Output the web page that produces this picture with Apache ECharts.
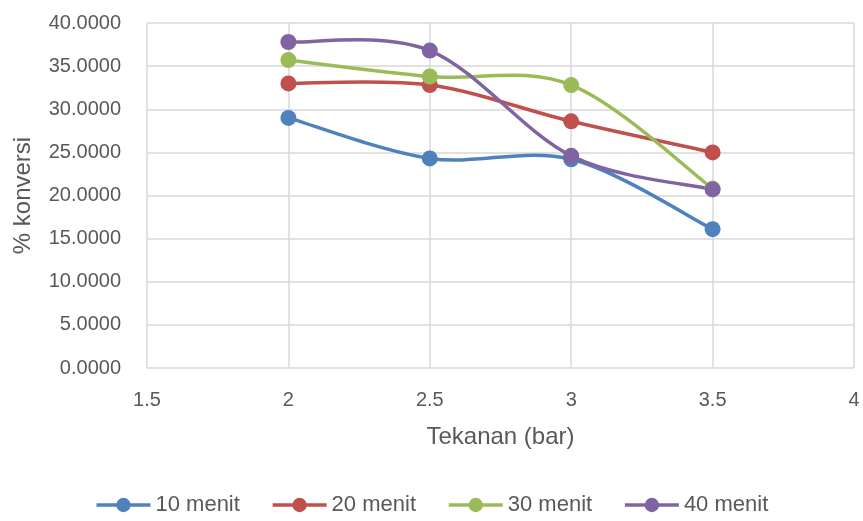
<!DOCTYPE html>
<html>
<head>
<meta charset="utf-8">
<script src="https://cdn.jsdelivr.net/npm/echarts@6/dist/echarts.min.js"></script>
<style>
  html, body { margin: 0; padding: 0; background: #fff; }
  #chart { width: 863px; height: 521px; }
</style>
</head>
<body>
<div id="chart"></div>
<script>
// Pressure (bar) on the x axis
const pressures = [2, 2.5, 3, 3.5];

// Conversion (%) per reaction time
const seriesNames = ['10 menit', '20 menit', '30 menit', '40 menit'];
const conv10 = [29.0, 24.3, 24.2, 16.1];
const conv20 = [33.0, 32.8, 28.6, 25.0];
const conv30 = [35.7, 33.8, 32.8, 20.8];
const conv40 = [37.8, 36.8, 24.6, 20.7];
const colors = ['#4F81BD', '#C0504D', '#9BBB59', '#8064A2'];

const allValues = [conv10, conv20, conv30, conv40];
const textColor = '#595959';
const fontFamily = '"Liberation Sans", Arial, sans-serif';
const lineWidth = 3.5;

// Cardinal-spline segment between point j and j+1, in pixel space via the axes
function splineSegment(values, color) {
  const n = pressures.length;
  return function (params, api) {
    const j = params.dataIndex;
    if (j >= n - 1) return null;
    const pt = k => {
      const c = Math.max(0, Math.min(n - 1, k));
      return api.coord([pressures[c], values[c]]);
    };
    const p0 = pt(j - 1), p1 = pt(j), p2 = pt(j + 1), p3 = pt(j + 2);
    const t = 1 / 6;
    return {
      type: 'bezierCurve',
      shape: {
        x1: p1[0], y1: p1[1],
        x2: p2[0], y2: p2[1],
        cpx1: p1[0] + (p2[0] - p0[0]) * t,
        cpy1: p1[1] + (p2[1] - p0[1]) * t,
        cpx2: p2[0] - (p3[0] - p1[0]) * t,
        cpy2: p2[1] - (p3[1] - p1[1]) * t
      },
      style: { stroke: color, lineWidth: lineWidth, fill: null, lineCap: 'round' }
    };
  };
}

const chart = echarts.init(document.getElementById('chart'));

// Markers (and legend entries) come from line series; curves from custom series
const markerSeries = seriesNames.map((name, i) => ({
  name: name,
  type: 'line',
  z: 3,
  data: pressures.map((p, j) => [p, allValues[i][j]]),
  symbol: 'circle',
  symbolSize: 16,
  itemStyle: { color: colors[i] },
  lineStyle: { color: colors[i], width: lineWidth, opacity: 0 }
}));

const curveSeries = seriesNames.map((name, i) => ({
  name: name,
  type: 'custom',
  z: 2,
  encode: { x: 0, y: 1 },
  data: pressures.map((p, j) => [p, allValues[i][j]]),
  itemStyle: { color: colors[i] },
  renderItem: splineSegment(allValues[i], colors[i])
}));

chart.setOption({
  animation: false,
  textStyle: { fontFamily: fontFamily, color: textColor },
  grid: { left: 147, right: 9, top: 23, bottom: 153 },
  xAxis: {
    type: 'value',
    min: 1.5,
    max: 4,
    interval: 0.5,
    name: 'Tekanan (bar)',
    nameLocation: 'middle',
    nameGap: 57,
    nameTextStyle: { fontSize: 24, color: textColor, fontFamily: fontFamily },
    axisLine: { show: false },
    axisTick: { show: false },
    axisLabel: { fontSize: 20, color: textColor, margin: 22, fontFamily: fontFamily },
    splitLine: { show: true, lineStyle: { color: '#d9d9d9', width: 1.5 } }
  },
  yAxis: {
    type: 'value',
    min: 0,
    max: 40,
    interval: 5,
    name: '% konversi',
    nameLocation: 'middle',
    nameGap: 112,
    nameRotate: 90,
    nameTextStyle: { fontSize: 24, color: textColor, fontFamily: fontFamily },
    axisLine: { show: false },
    axisTick: { show: false },
    axisLabel: {
      fontSize: 20,
      color: textColor,
      margin: 26,
      fontFamily: fontFamily,
      formatter: v => v.toFixed(4)
    },
    splitLine: { show: true, lineStyle: { color: '#d9d9d9', width: 1.5 } }
  },
  legend: {
    bottom: 0,
    left: 'center',
    itemWidth: 54,
    itemHeight: 18,
    itemGap: 31,
    lineStyle: { width: lineWidth, opacity: 1 },
    textStyle: { fontSize: 22, color: textColor, fontFamily: fontFamily },
    data: seriesNames
  },
  series: markerSeries.concat(curveSeries)
});
</script>
</body>
</html>
